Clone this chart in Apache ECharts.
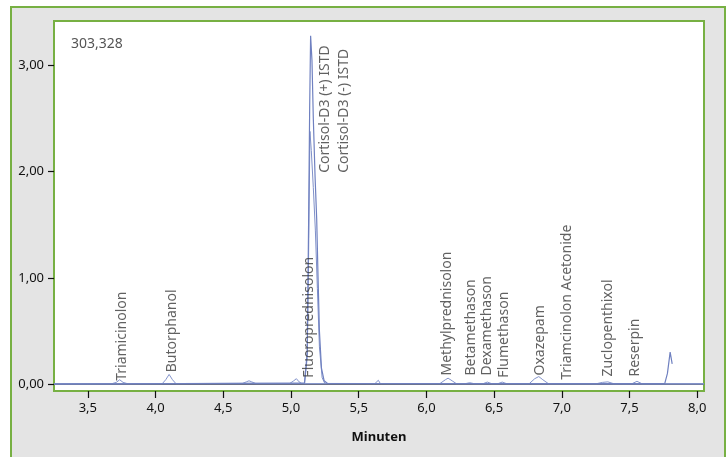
<!DOCTYPE html>
<html>
<head>
<meta charset="utf-8">
<script src="https://cdn.jsdelivr.net/npm/echarts@6/dist/echarts.min.js"></script>
<style>
html,body{margin:0;padding:0;background:#fff;}
#c{width:728px;height:457px;}
</style>
</head>
<body>
<div id="c"></div>
<script>
// ---- data ----
var xTicks = [3.5, 4.0, 4.5, 5.0, 5.5, 6.0, 6.5, 7.0, 7.5, 8.0];
var yTicks = [0, 1, 2, 3];
var scanLabel = '303,328';

// analyte trace (small peaks)
var traceAnalytes = [
  [3.25,0.004],[3.68,0.004],[3.71,0.015],[3.735,0.04],[3.76,0.015],[3.79,0.004],
  [4.05,0.004],[4.075,0.04],[4.10,0.09],[4.125,0.04],[4.15,0.004],
  [4.64,0.004],[4.67,0.02],[4.69,0.03],[4.71,0.02],[4.74,0.004],
  [4.99,0.004],[5.02,0.03],[5.04,0.05],[5.06,0.02],[5.08,0.004],
  [5.62,0.004],[5.645,0.035],[5.66,0.004],
  [6.10,0.004],[6.14,0.04],[6.16,0.055],[6.19,0.03],[6.22,0.004],
  [6.29,0.004],[6.32,0.012],[6.35,0.004],
  [6.42,0.004],[6.45,0.018],[6.48,0.004],
  [6.53,0.004],[6.56,0.018],[6.59,0.004],
  [6.76,0.004],[6.80,0.05],[6.83,0.07],[6.86,0.04],[6.90,0.004],
  [7.26,0.004],[7.30,0.015],[7.34,0.02],[7.38,0.004],
  [7.52,0.004],[7.555,0.025],[7.59,0.004],
  [8.05,0.004]
];
// Cortisol-D3 (+) ISTD trace
var traceIstdPlus = [
  [3.25,0.0],[5.10,0.008],[5.12,0.3],[5.13,1.5],[5.138,2.6],[5.145,3.28],
  [5.155,3.05],[5.165,2.5],[5.178,1.95],[5.19,1.55],[5.20,1.0],[5.21,0.5],
  [5.225,0.15],[5.245,0.03],[5.27,0.005],[7.76,0.004],[7.78,0.1],[7.80,0.30],[7.815,0.19]
];
// Cortisol-D3 (-) ISTD trace
var traceIstdMinus = [
  [3.25,0.0],[5.10,0.008],[5.12,0.25],[5.13,1.2],[5.14,2.38],[5.15,2.2],
  [5.165,1.85],[5.18,1.45],[5.195,0.9],[5.21,0.35],[5.23,0.06],[5.25,0.005],[8.05,0.0]
];
// baseline trace
var traceBase = [[3.25,-0.003],[8.05,-0.003]];

// peak annotations
var peakNames = ['Triamicinolon','Butorphanol','Fluoroprednisolon','Cortisol-D3 (+) ISTD','Cortisol-D3 (-) ISTD',
  'Methylprednisolon','Betamethason','Dexamethason','Flumethason','Oxazepam','Triamcinolon Acetonide',
  'Zuclopenthixol','Reserpin'];
var peakTimes = [3.75, 4.12, 5.13, 5.25, 5.39, 6.15, 6.33, 6.45, 6.57, 6.84, 7.04, 7.34, 7.54];
var labelBase = [0.03, 0.11, 0.06, 1.99, 1.99, 0.08, 0.08, 0.08, 0.06, 0.08, 0.04, 0.07, 0.07];

// ---- chart ----
var green = '#77b043';
var FONT = "'Noto Sans', sans-serif";
var chart = echarts.init(document.getElementById('c'), null, {renderer:'canvas'});

var labelData = peakNames.map(function(n, i){ return {name:n, value:[peakTimes[i], labelBase[i]]}; });

function lineSeries(name, data, color, width, z){
  return {type:'line', name:name, data:data, showSymbol:false, symbol:'none', smooth:false,
    lineStyle:{color:color, width:width}, z:z, animation:false, silent:true};
}

chart.setOption({
  animation:false,
  backgroundColor:'#ffffff',
  graphic:[
    {type:'rect', shape:{x:11, y:7, width:714, height:460}, style:{fill:'#e4e4e4', stroke:green, lineWidth:2}, z:-10, silent:true}
  ],
  title:{text:scanLabel, left:66, top:32, textStyle:{fontFamily:FONT, fontSize:14, fontWeight:'normal', color:'#555'}},
  grid:{left:54, top:21, right:24, bottom:66, show:true, backgroundColor:'#ffffff', borderColor:green, borderWidth:2},
  xAxis:{
    type:'value', min:3.25, max:8.05,
    name:'Minuten', nameLocation:'middle', nameGap:40,
    nameTextStyle:{fontFamily:FONT, fontSize:13, fontWeight:'bold', color:'#111'},
    axisLine:{show:true, onZero:false, lineStyle:{color:green, width:2}},
    axisTick:{show:true, length:7, customValues:xTicks, lineStyle:{color:'#111', width:1.2}},
    axisLabel:{customValues:xTicks, margin:11, fontFamily:FONT, fontSize:13, color:'#111',
      formatter:function(v){return v.toFixed(1).replace('.', ',');}},
    splitLine:{show:false}
  },
  yAxis:{
    type:'value', min:-0.066, max:3.42,
    axisLine:{show:true, lineStyle:{color:green, width:2}},
    axisTick:{show:true, length:6, customValues:yTicks, lineStyle:{color:'#111', width:1.2}},
    axisLabel:{customValues:yTicks, margin:10, fontFamily:FONT, fontSize:13, color:'#111',
      formatter:function(v){return v.toFixed(2).replace('.', ',');}},
    splitLine:{show:false}
  },
  series:[
    lineSeries('Basis', traceBase, '#6a6f86', 1.6, 2),
    lineSeries('Analyten', traceAnalytes, '#8494cc', 1, 3),
    lineSeries('ISTD-', traceIstdMinus, '#7f90c9', 1, 4),
    lineSeries('ISTD+', traceIstdPlus, '#6f80c0', 1.2, 5),
    {
      type:'scatter', data:labelData, symbolSize:0, silent:true, z:10, animation:false,
      label:{show:true, position:'inside', rotate:90, align:'left', verticalAlign:'middle',
        formatter:function(p){return p.name;}, fontFamily:FONT, fontSize:14, color:'#3a3a3a'}
    }
  ]
});
</script>
</body>
</html>
